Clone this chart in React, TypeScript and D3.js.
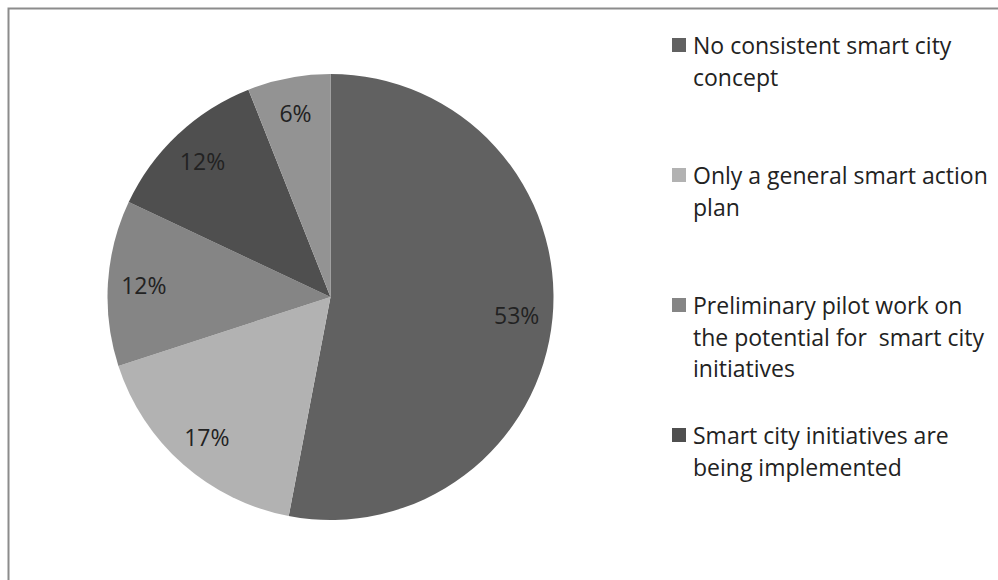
import React from "react";
import * as d3 from "d3";

const categories = [
  "No consistent smart city concept",
  "Only a general smart action plan",
  "Preliminary pilot work on the potential for smart city initiatives",
  "Smart city initiatives are being implemented",
  "Other",
];
const values = [53, 17, 12, 12, 6];
const sliceColors = ["#616161", "#b2b2b2", "#858585", "#4f4f4f", "#939393"];
const legendLines = [
  ["No consistent smart city", "concept"],
  ["Only a general smart action", "plan"],
  ["Preliminary pilot work on", "the potential for  smart city", "initiatives"],
  ["Smart city initiatives are", "being implemented"],
];
const legendTop = [45, 175, 305, 435];

const W = 998;
const H = 580;
const cx = 330.5;
const cy = 297;
const R = 223;
const labelR = 187;
const FONT = "'Open Sans', sans-serif";
const FS = 23;

export default function App() {
  const data = categories.map((c, i) => ({ c, v: values[i], i }));
  const pie = d3.pie<any>().value((d) => d.v).sort(null);
  const arcs = pie(data);
  const arc = d3.arc<any>().innerRadius(0).outerRadius(R);
  const labelArc = d3.arc<any>().innerRadius(labelR).outerRadius(labelR);
  const color = d3.scaleOrdinal<number, string>().domain(d3.range(values.length)).range(sliceColors);

  return (
    <div style={{ position: "absolute", left: 0, top: 0, width: W, height: H, background: "#fff" }}>
      <svg width={W} height={H} style={{ display: "block" }}>
        <rect x={8.5} y={8.5} width={W + 20} height={H + 20} fill="#fff" stroke="#8c8c8c" strokeWidth={2} />
        <g transform={`translate(${cx},${cy})`}>
          {arcs.map((a, i) => (
            <path key={i} d={arc(a) as string} fill={color(i)} />
          ))}
          {arcs.map((a, i) => {
            const [x, y] = labelArc.centroid(a);
            return (
              <text
                key={"l" + i}
                x={x}
                y={y}
                textAnchor="middle"
                dominantBaseline="central"
                fontFamily={FONT}
                fontSize={FS}
                fill="#222"
              >
                {`${a.data.v}%`}
              </text>
            );
          })}
        </g>
        <g>
          {legendLines.map((lines, i) => (
            <g key={"lg" + i}>
              <rect x={672} y={legendTop[i] - 7} width={14} height={14} fill={color(i)} />
              {lines.map((ln, j) => (
                <text
                  key={j}
                  x={693}
                  y={legendTop[i] + j * 31.5}
                  dominantBaseline="central"
                  fontFamily={FONT}
                  fontSize={FS}
                  fill="#222"
                  style={{ whiteSpace: "pre" }}
                >
                  {ln}
                </text>
              ))}
            </g>
          ))}
        </g>
      </svg>
    </div>
  );
}
